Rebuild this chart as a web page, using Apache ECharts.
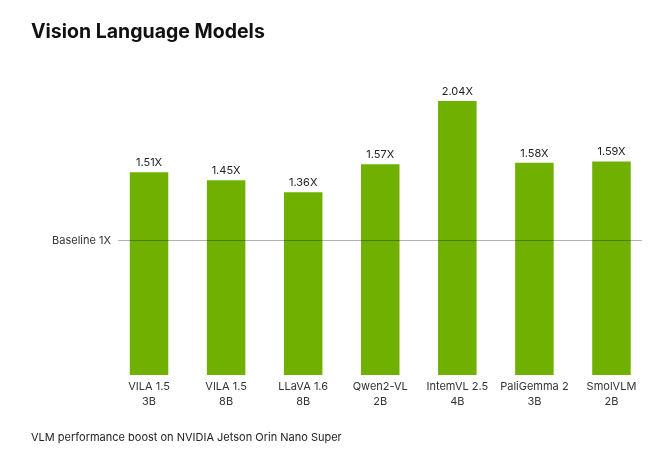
<!DOCTYPE html>
<html><head><meta charset="utf-8">
<script src="https://cdn.jsdelivr.net/npm/echarts@6/dist/echarts.min.js"></script>
<style>html,body{margin:0;padding:0;background:#fff}#c{width:664px;height:465px}</style>
</head><body><div id="c"></div>
<script>
const categories = ["VILA 1.5\n3B","VILA 1.5\n8B","LLaVA 1.6\n8B","Qwen2-VL\n2B","IntemVL 2.5\n4B","PaliGemma 2\n3B","SmolVLM\n2B"];
const speedups = [1.51,1.45,1.36,1.57,2.04,1.58,1.59];
const baseline = 1;
const titleText = "Vision Language Models";
const footnote = "VLM performance boost on NVIDIA Jetson Orin Nano Super";

const chart = echarts.init(document.getElementById('c'));
const F = 'Inter, "Noto Sans", sans-serif';
chart.setOption({
  animation:false,
  backgroundColor:'#fff',
  title:[
    {text:titleText,left:26,top:17,textStyle:{fontFamily:F,fontWeight:700,fontSize:19.5,color:'#111'}},
    {text:footnote,left:26,top:427,textStyle:{fontFamily:F,fontWeight:400,fontSize:11,color:'#222'}}
  ],
  grid:{left:110.5,right:14,top:39.25,bottom:90},
  xAxis:{type:'category',data:categories,axisLine:{show:false},axisTick:{show:false},
    axisLabel:{fontFamily:F,fontSize:11,color:'#333',lineHeight:15,margin:4,interval:0}},
  yAxis:{type:'value',min:0,max:2.5,show:false,splitLine:{show:false}},
  series:[{
    type:'bar',data:speedups,barWidth:38.5,
    itemStyle:{color:'#6fb000'},
    label:{show:true,position:'top',distance:4,fontFamily:F,fontSize:11,color:'#222',formatter:p=>p.value.toFixed(2)+'X'},
    markLine:{silent:true,symbol:'none',z:10,
      lineStyle:{color:'rgba(0,0,0,0.3)',type:'solid',width:1},
      label:{show:true,position:'start',distance:7,fontFamily:F,fontSize:11,color:'#333',formatter:'Baseline '+baseline+'X'},
      data:[[{x:118,yAxis:baseline},{x:642,yAxis:baseline}]]}
  }]
});
</script></body></html>
